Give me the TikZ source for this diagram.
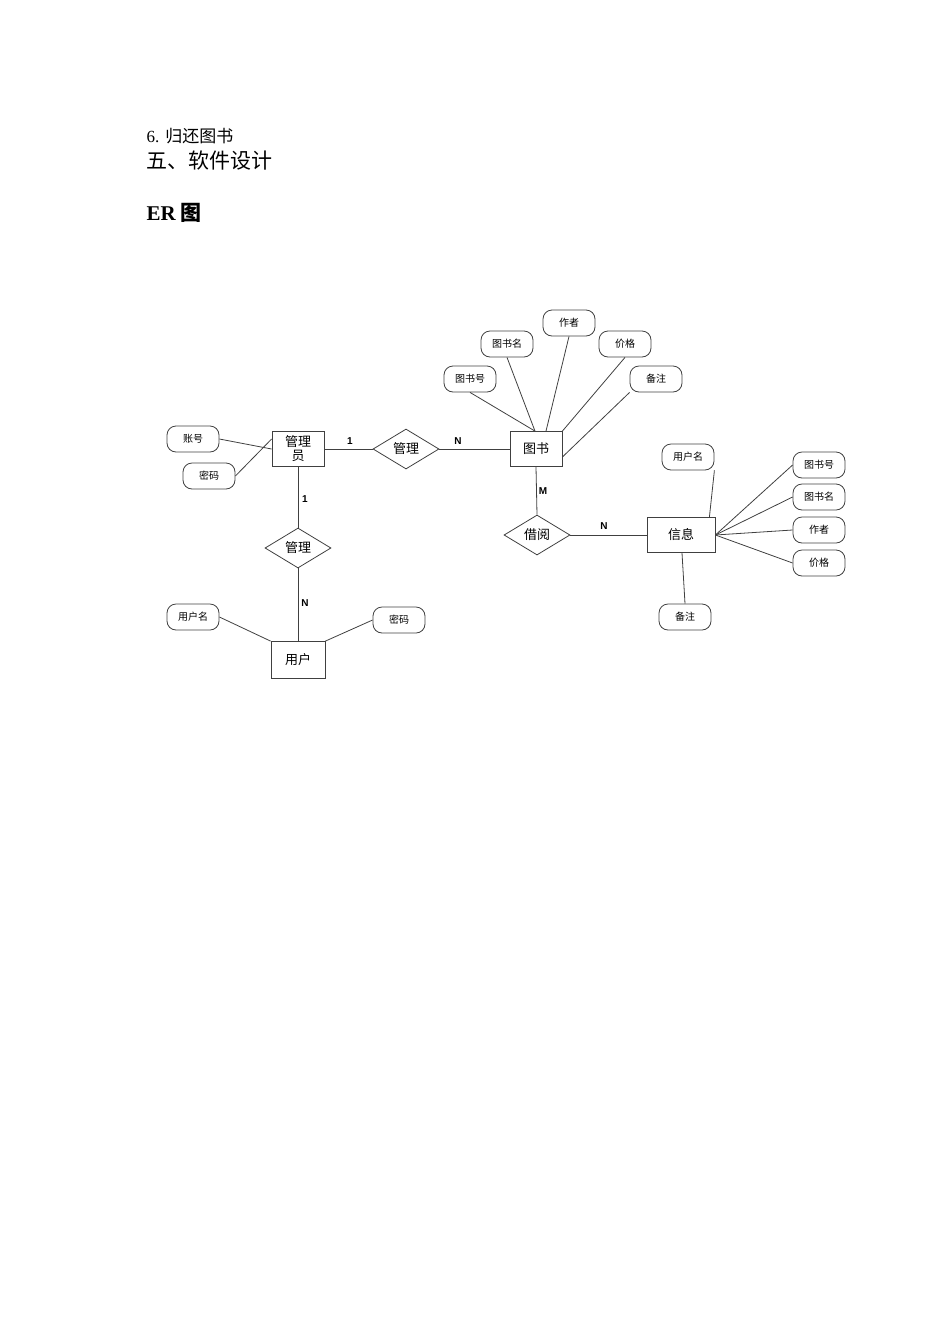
\documentclass[tikz,border=0pt]{standalone}
\usepackage{fontspec}
\setmainfont{Liberation Serif}
\newfontfamily\cjk{Noto Sans CJK SC}
\newfontfamily\lab{Liberation Sans}
\usetikzlibrary{shapes.geometric}
\begin{document}
\begin{tikzpicture}[x=1pt,y=-1pt,
  ent/.style={draw=black!75,line width=0.8pt,minimum width=52pt,minimum height=35pt,inner sep=1pt,font=\cjk\fontsize{13}{14}\selectfont,align=center},
  rel/.style={draw=black!75,line width=0.8pt,diamond,aspect=1.65,minimum width=66pt,minimum height=40pt,inner sep=0pt,font=\cjk\fontsize{13}{14}\selectfont},
  att/.style={draw=black!75,line width=0.8pt,rounded corners=9pt,minimum width=52pt,minimum height=26pt,inner sep=0pt,font=\cjk\fontsize{10}{11}\selectfont},
  card/.style={font=\lab\bfseries\fontsize{10}{11}\selectfont},
  ln/.style={draw=black!75,line width=0.8pt}]
\useasboundingbox (0,0) rectangle (950,1344);
\node[anchor=west,font=\fontsize{17}{18}\selectfont] (h1) at (143,136) {6.\hspace{6pt}{\cjk 归还图书}};
\node[anchor=west,font=\cjk\fontsize{21}{22}\selectfont] (h2) at (143,161) {五、软件设计};
\node[anchor=west,font=\bfseries\fontsize{21}{22}\selectfont] (h3) at (143,213) {ER {\cjk\bfseries 图}};

\node[ent] (adm) at (298,449) {管理\\员};
\node[rel] (r1) at (406,449) {管理};
\node[ent] (book) at (536,449) {图书};
\node[rel] (r2) at (537,535) {借阅};
\node[ent,minimum width=68pt] (info) at (681,535) {信息};
\node[rel] (r3) at (298,548) {管理};
\node[ent,minimum width=54pt,minimum height=37pt] (user) at (298,660) {用户};

\node[att] (a1) at (193,439) {账号};
\node[att] (a2) at (209,476) {密码};
\node[att] (b1) at (507,344) {图书名};
\node[att] (b2) at (569,323) {作者};
\node[att] (b3) at (625,344) {价格};
\node[att] (b4) at (470,379) {图书号};
\node[att] (b5) at (656,379) {备注};
\node[att] (i1) at (688,457) {用户名};
\node[att] (i2) at (819,465) {图书号};
\node[att] (i3) at (819,497) {图书名};
\node[att] (i4) at (819,530) {作者};
\node[att] (i5) at (819,563) {价格};
\node[att] (i6) at (685,617) {备注};
\node[att] (u1) at (193,617) {用户名};
\node[att] (u2) at (399,620) {密码};

\draw[ln] (adm.east) -- (r1.west);
\draw[ln] (r1.east) -- (book.west);
\draw[ln] (adm.south) -- (r3.north);
\draw[ln] (r3.south) -- (user.north);
\draw[ln] (book.south) -- (r2.north);
\draw[ln] (r2.east) -- (info.west);

\draw[ln] (a1.east) -- ([yshift=0pt]adm.west);
\draw[ln] (a2.east) -- ([yshift=10pt]adm.west);
\draw[ln] (b4.south) -- ([xshift=-1pt]book.north);
\draw[ln] (b1.south) -- ([xshift=-1pt]book.north);
\draw[ln] (b2.south) -- ([xshift=10pt]book.north);
\draw[ln] (b3.south) -- (book.north east);
\draw[ln] (b5.south west) -- ([yshift=-8pt]book.east);
\draw[ln] (i1.south east) -- ([xshift=-6pt]info.north east);
\draw[ln] (info.east) -- (i2.west);
\draw[ln] (info.east) -- (i3.west);
\draw[ln] (info.east) -- (i4.west);
\draw[ln] (info.east) -- (i5.west);
\draw[ln] ([xshift=1pt]info.south) -- (i6.north);
\draw[ln] (u1.east) -- (user.north west);
\draw[ln] (u2.west) -- (user.north east);

\node[card] (c1) at (350,441) {1};
\node[card] (c2) at (458,441) {N};
\node[card] (c3) at (305,499) {1};
\node[card] (c4) at (305,603) {N};
\node[card] (c5) at (543,491) {M};
\node[card] (c6) at (604,526) {N};
\end{tikzpicture}
\end{document}
